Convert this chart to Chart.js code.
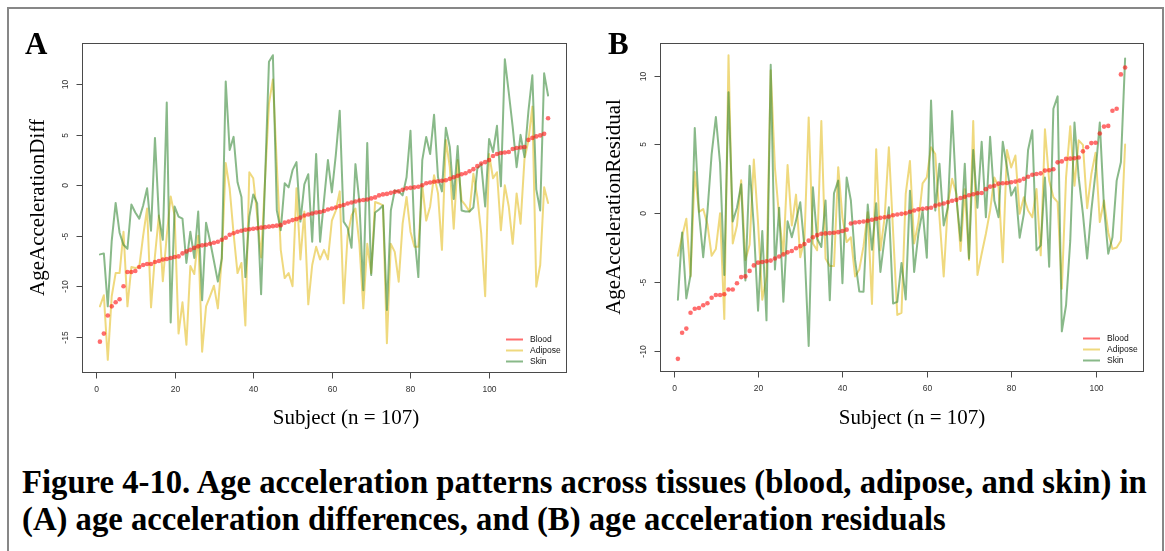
<!DOCTYPE html>
<html>
<head>
<meta charset="utf-8">
<script src="https://cdn.jsdelivr.net/npm/chart.js@4.4.1/dist/chart.umd.min.js"></script>
<style>
  html, body { margin: 0; padding: 0; background: #fff; }
  #page { position: relative; width: 1165px; height: 551px; overflow: hidden; background: #fff; }
  #frame { position: absolute; left: 7px; top: 7px; width: 1157px; height: 600px; box-sizing: border-box; border: 2px solid #878787; }
  canvas { position: absolute; top: 0; }
  #cvA { left: 0; }
  #cvB { left: 582px; }
  #caption { position: absolute; left: 22px; top: 464px; font: bold 32.7px "Liberation Serif", "Times New Roman", serif; line-height: 37px; color: #000; white-space: nowrap; }
</style>
</head>
<body>
<div id="page">
  <div id="frame"></div>
  <canvas id="cvA" width="582" height="440"></canvas>
  <canvas id="cvB" width="583" height="440"></canvas>
  <div id="caption">Figure 4-10. Age acceleration patterns across tissues (blood, adipose, and skin) in<br>(A) age acceleration differences, and (B) age acceleration residuals</div>
</div>
<script>
// ---- Panel A: age acceleration differences (one value per subject) ----
const bloodDiff = [
  -15.5, -14.7, -12.9, -12.0, -11.6, -11.3, -10.0, -8.6, -8.6, -8.5,
  -8.1, -7.9, -7.8, -7.8, -7.6, -7.5, -7.35, -7.3, -7.2, -7.1,
  -7.05, -6.75, -6.55, -6.4, -6.2, -6.05, -5.95, -5.9, -5.8, -5.7,
  -5.6, -5.4, -5.2, -4.9, -4.75, -4.6, -4.5, -4.4, -4.35, -4.3,
  -4.25, -4.2, -4.15, -4.1, -4.05, -4.0, -3.95, -3.7, -3.6, -3.45,
  -3.35, -3.2, -3.0, -2.9, -2.8, -2.7, -2.65, -2.55, -2.4, -2.3,
  -2.2, -2.05, -1.95, -1.8, -1.7, -1.6, -1.5, -1.45, -1.4, -1.3,
  -1.2, -1.0, -0.9, -0.85, -0.75, -0.65, -0.6, -0.45, -0.3, -0.25,
  -0.2, -0.15, 0.0, 0.2, 0.28, 0.35, 0.4, 0.45, 0.5, 0.65,
  0.8, 0.95, 1.1, 1.2, 1.4, 1.6, 1.9, 2.15, 2.3, 2.5,
  2.9, 3.1, 3.2, 3.25, 3.3, 3.6, 3.7, 3.75, 3.8, 4.5,
  4.7, 4.85, 4.95, 5.1, 6.65
];
const adiposeDiff = [
  -12.0, -10.9, -17.3, -11.0, -8.7, -8.7, -4.6, -12.0, -8.1, -8.2,
  -8.1, -5.0, -2.3, -12.1, -7.0, -3.0, -9.5, -5.0, -1.1, -3.0,
  -14.7, -11.6, -15.8, -8.0, -8.8, -5.0, -16.5, -12.0, -11.0, -9.95,
  -12.2, -7.25, 2.2, -0.3, -4.8, -8.7, -7.7, -13.9, 1.3, 0.7,
  -3.0, -7.15, 0.5, 8.1, 10.5, 2.0, -6.4, -9.2, -8.7, -10.0,
  -0.3, -7.35, -2.6, -11.8, -7.9, -6.1, -7.35, -6.4, -7.35, -3.5,
  -2.5, -0.6, -11.7, -5.0, -3.0, -2.3, -5.8, -12.2, -5.8, -8.7,
  -1.65, -1.8, -2.0, -15.65, -5.8, -6.6, -9.55, -3.8, -1.15, -4.6,
  -6.1, -6.1, 0.0, -3.5, -2.1, 1.0, -0.8, -6.4, 4.5, 1.8,
  -4.3, 2.5, -1.5, -2.0, -2.6, 1.15, -1.15, -4.8, -11.0, 3.1,
  0.7, 1.3, -4.45, 0.0, -2.1, -5.8, -0.8, -3.8, 2.6, 4.45,
  7.8, -10.05, -7.9, -0.2, -1.75
];
const skinDiff = [
  -6.85, -6.75, -12.0, -5.5, -1.75, -4.7, -5.9, -6.3, -1.9, -2.7,
  -3.3, -2.0, -0.3, -4.5, 4.7, -3.1, -5.4, 8.2, -13.6, -2.1,
  -3.1, -3.3, -7.7, -4.6, -7.2, -2.6, -11.4, -3.7, -5.5, -7.5,
  -9.55, -7.25, 10.3, 3.5, 4.8, 0.3, -1.15, -9.1, -3.1, -0.9,
  -1.8, -10.8, 0.5, 12.25, 12.9, -2.5, -4.45, 0.2, -0.2, 1.5,
  2.3, -3.6, 0.1, 1.1, -5.6, 3.1, -5.6, -1.5, 2.5, -0.7,
  3.0, 7.4, -3.6, -4.2, -6.2, 2.1, -1.65, -10.4, 4.2, -8.9,
  -2.7, -2.4, -2.0, -12.35, -2.5, -0.5, -0.6, -1.0, 0.8, 5.4,
  -4.9, -9.1, 2.5, 4.8, 3.1, 7.0, 0.8, -0.6, 5.7, 3.8,
  -1.35, 3.9, -2.5, -2.6, -2.6, -2.2, 1.65, 2.1, -2.1, 4.6,
  3.3, 5.9, -0.1, 12.5, 9.2, 5.8, 1.8, 5.0, 2.8, 7.35,
  10.9, -0.4, -2.5, 11.1, 8.9
];

// ---- Panel B: age acceleration residuals ----
const bloodResid = [
  -10.6, -8.7, -8.4, -7.25, -6.95, -6.9, -6.7, -6.55, -6.15, -5.95,
  -5.95, -5.9, -5.55, -5.55, -5.1, -4.65, -4.6, -4.2, -3.8, -3.6,
  -3.55, -3.5, -3.45, -3.3, -3.15, -3.0, -2.85, -2.75, -2.55, -2.4,
  -2.25, -2.0, -1.75, -1.6, -1.5, -1.47, -1.45, -1.42, -1.38, -1.3,
  -1.2, -0.75, -0.68, -0.65, -0.6, -0.55, -0.48, -0.4, -0.34, -0.3,
  -0.25, -0.15, -0.1, -0.05, 0.0, 0.1, 0.2, 0.28, 0.32, 0.35,
  0.4, 0.55, 0.63, 0.7, 0.8, 0.9, 0.97, 1.1, 1.2, 1.3,
  1.38, 1.45, 1.47, 1.75, 1.93, 2.0, 2.15, 2.18, 2.2, 2.25,
  2.3, 2.37, 2.5, 2.65, 2.8, 2.85, 2.9, 3.1, 3.12, 3.2,
  3.7, 3.77, 3.95, 3.97, 4.0, 4.05, 4.5, 4.8, 5.1, 5.12,
  5.8, 6.3, 6.35, 7.45, 7.6, 10.1, 10.6
];
const adiposeResid = [
  -3.1, -1.7, -0.4, -4.6, 3.0, 0.1, 0.3, -0.8, -3.1, -2.6,
  0.0, -7.7, 11.5, -2.2, -0.9, 2.4, -3.4, -2.3, 3.9, -0.7,
  -6.3, -4.6, 10.4, 3.3, -0.3, -3.0, 3.5, -0.9, 1.35, -3.2,
  -1.9, 6.97, -2.2, -2.7, 6.7, -3.3, -3.85, -3.85, 3.35, -0.3,
  -2.1, -1.75, -4.6, -4.1, -2.4, 0.07, -6.6, 4.66, -2.7, -0.3,
  4.8, -1.3, -7.4, -7.25, 1.4, 3.8, -2.2, -0.65, 2.17, 2.6,
  4.8, 4.3, -0.3, -4.6, 0.7, 2.5, 1.4, -2.75, 1.75, -3.4,
  6.7, -4.5, -2.95, -1.5, 0.2, 2.6, 1.9, -3.57, 4.6, 3.33,
  4.2, -0.05, 1.16, 0.2, -0.3, 1.76, -3.07, 6.1, 2.37, 1.16,
  0.8, -5.5, 2.6, 6.33, 2.0, 5.3, 4.97, 0.36, 2.85, 4.4,
  -0.65, 0.92, -1.4, -2.6, -2.5, -2.0, 5.0
];
const skinResid = [
  -6.3, -1.4, -6.2, -4.5, 6.2, 0.0, -3.2, 0.1, 4.3, 7.0,
  3.6, -4.5, 8.8, -0.6, 0.4, 2.1, -4.9, 3.45, -1.0, -7.1,
  -1.3, -7.8, 10.8, -4.1, 0.4, -6.45, -0.58, -1.75, -0.53, 0.8,
  -2.5, -9.67, 1.88, -1.86, -2.46, 0.92, -6.33, 1.45, 2.37, -5.1,
  2.6, 0.92, -3.4, -5.7, -5.72, 0.63, -2.66, 0.72, -4.28, -1.77,
  0.43, -6.57, -6.45, -3.62, -6.28, 1.64, -4.28, -1.5, 0.19, -3.24,
  8.2, 0.19, 3.6, -0.9, 0.43, 7.44, 1.16, -2.0, 3.6, -3.3,
  4.6, 0.4, 5.2, -0.3, 5.56, 0.92, -0.3, 5.2, 3.33, 1.28,
  1.88, -1.79, -0.05, 4.6, 6.04, -2.7, -2.34, 2.6, -3.9, 7.6,
  8.5, -8.6, -6.7, -2.0, 6.6, 2.6, -0.05, -3.3, 0.2, 3.0,
  6.6, 0.43, -2.95, -1.75, 2.37, 3.7, 11.25
];

// ---- axis tick labels ----
const subjectTicks = [0, 20, 40, 60, 80, 100];
const diffTicks = [-15, -10, -5, 0, 5, 10];
const residTicks = [-10, -5, 0, 5, 10];
const tissueNames = ['Blood', 'Adipose', 'Skin'];

const COLORS = {
  Blood: 'rgba(255, 20, 20, 0.62)',
  Adipose: 'rgba(228, 192, 40, 0.6)',
  Skin: 'rgba(52, 134, 52, 0.58)'
};
const SANS = '"Liberation Sans", Arial, Helvetica, sans-serif';
const SERIF = '"Liberation Serif", "Times New Roman", Times, serif';

// base-R style ranges: data extent widened by 4% on each side
function padRange(lo, hi) { const p = (hi - lo) * 0.04; return [lo - p, hi + p]; }
function valueRange(arrs) {
  const all = arrs.flat();
  return padRange(Math.min(...all), Math.max(...all));
}
const toPoints = arr => arr.map((v, i) => ({ x: i + 1, y: v }));

// Draws the boxed plot frame, outward ticks, rotated y labels, titles and the inset legend.
const baseGraphics = {
  id: 'baseGraphics',
  afterDraw(chart, args, o) {
    const { ctx, chartArea: a, scales: { x, y } } = chart;
    const L = Math.round(a.left) + 0.5, T = Math.round(a.top) + 0.5;
    const R = Math.round(a.right) + 0.5, B = Math.round(a.bottom) + 0.5;
    ctx.save();
    ctx.strokeStyle = '#4a4a4a';
    ctx.lineWidth = 1;
    ctx.strokeRect(L, T, R - L, B - T);

    ctx.fillStyle = '#333';
    ctx.font = '8.5px ' + SANS;
    ctx.textAlign = 'center';
    ctx.textBaseline = 'middle';
    o.xTicks.forEach(v => {
      const px = Math.round(x.getPixelForValue(v)) + 0.5;
      ctx.beginPath(); ctx.moveTo(px, B); ctx.lineTo(px, B + 6); ctx.stroke();
      ctx.fillText(String(v), px, B + 17);
    });
    o.yTicks.forEach(v => {
      const py = Math.round(y.getPixelForValue(v)) + 0.5;
      ctx.beginPath(); ctx.moveTo(L - 6, py); ctx.lineTo(L, py); ctx.stroke();
      ctx.save();
      ctx.translate(L - 17, py);
      ctx.rotate(-Math.PI / 2);
      ctx.fillText(String(v), 0, 0);
      ctx.restore();
    });

    // axis titles
    ctx.fillStyle = '#000';
    ctx.font = '21px ' + SERIF;
    ctx.save();
    ctx.translate(o.yTitleX, (a.top + a.bottom) / 2);
    ctx.rotate(-Math.PI / 2);
    ctx.fillText(o.yTitle, 0, 0);
    ctx.restore();
    ctx.fillText(o.xTitle, o.xTitleX, 418);

    // panel letter
    ctx.font = 'bold 31px ' + SERIF;
    ctx.textAlign = 'left';
    ctx.textBaseline = 'alphabetic';
    ctx.fillText(o.letter, o.letterX, 54);

    // legend (bottom-right inside the box)
    ctx.font = '8.5px ' + SANS;
    ctx.textBaseline = 'middle';
    const order = ['Blood', 'Adipose', 'Skin'];
    order.forEach((name, k) => {
      const ds = chart.data.datasets.find(d => d.label === name);
      const ry = Math.round(a.bottom - 33 + k * 11.2) + 0.5;
      ctx.strokeStyle = ds.legendColor;
      ctx.lineWidth = 2;
      ctx.beginPath(); ctx.moveTo(a.right - 60, ry); ctx.lineTo(a.right - 43, ry); ctx.stroke();
      ctx.fillStyle = '#111';
      ctx.fillText(name, a.right - 36, ry);
    });
    ctx.restore();
  }
};

function makePanel(canvasId, blood, adipose, skin, yTicks, pad, texts) {
  const n = blood.length;
  const [xmin, xmax] = padRange(1, n);
  const [ymin, ymax] = valueRange([blood, adipose, skin]);
  return new Chart(document.getElementById(canvasId), {
    type: 'line',
    data: {
      datasets: [
        { label: tissueNames[0], data: toPoints(blood), showLine: false, order: 0,
          pointRadius: 2.3, pointBorderWidth: 0, pointBackgroundColor: COLORS.Blood,
          borderColor: COLORS.Blood, legendColor: COLORS.Blood },
        { label: tissueNames[1], data: toPoints(adipose), order: 2, pointRadius: 0,
          borderColor: COLORS.Adipose, borderWidth: 2, legendColor: COLORS.Adipose },
        { label: tissueNames[2], data: toPoints(skin), order: 1, pointRadius: 0,
          borderColor: COLORS.Skin, borderWidth: 2, legendColor: COLORS.Skin }
      ]
    },
    options: {
      responsive: false,
      animation: false,
      events: [],
      layout: { padding: pad },
      elements: { line: { tension: 0, borderJoinStyle: 'round', borderCapStyle: 'round' } },
      plugins: {
        legend: { display: false },
        tooltip: { enabled: false },
        baseGraphics: Object.assign({ xTicks: subjectTicks, yTicks: yTicks }, texts)
      },
      scales: {
        x: { type: 'linear', display: false, min: xmin, max: xmax },
        y: { type: 'linear', display: false, min: ymin, max: ymax }
      }
    },
    plugins: [baseGraphics]
  });
}

makePanel('cvA', bloodDiff, adiposeDiff, skinDiff, diffTicks,
  { left: 82, top: 43, right: 16, bottom: 68 },
  { yTitle: 'AgeAccelerationDiff', yTitleX: 38, xTitle: 'Subject (n = 107)', xTitleX: 346, letter: 'A', letterX: 25 });

makePanel('cvB', bloodResid, adiposeResid, skinResid, residTicks,
  { left: 78, top: 43, right: 22, bottom: 69 },
  { yTitle: 'AgeAccelerationResidual', yTitleX: 32, xTitle: 'Subject (n = 107)', xTitleX: 330, letter: 'B', letterX: 26 });
</script>
</body>
</html>
